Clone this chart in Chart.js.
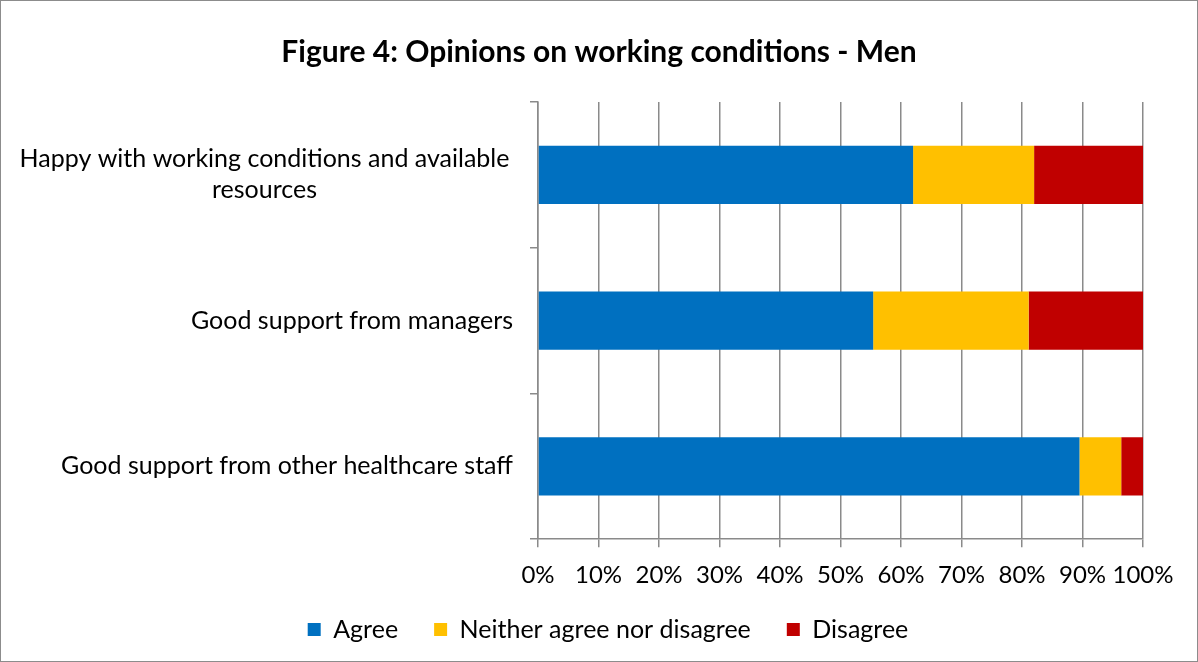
<!DOCTYPE html>
<html>
<head>
<meta charset="utf-8">
<script src="https://cdn.jsdelivr.net/npm/chart.js@4.4.1/dist/chart.umd.min.js"></script>
<style>
  html, body { margin: 0; padding: 0; background: #fff; }
  #frame { width: 1198px; height: 662px; box-sizing: border-box; border: 1px solid #8c8c8c; }
  canvas { display: block; }
</style>
</head>
<body>
<div id="frame"><canvas id="chart" width="1196" height="660"></canvas></div>
<script>
// Survey statements (multi-line where the label wraps)
const categories = [
  ['Happy with working conditions and available', 'resources'],
  ['Good support from managers'],
  ['Good support from other healthcare staff']
];

// Share of respondents, in percent
const agree    = [62.0, 55.4, 89.5];
const neither  = [20.0, 25.7, 6.9];
const disagree = [18.0, 18.9, 3.6];

const seriesNames = ['Agree', 'Neither agree nor disagree', 'Disagree'];
const seriesColors = ['#0070C0', '#FFC000', '#C00000'];

const FONT = 'Lato, "Open Sans", sans-serif';
const gridColor = '#8a8a8a';

Chart.defaults.font.family = FONT;
Chart.defaults.color = '#000';

// category labels: single lines right-aligned to the axis,
// wrapped labels centred in the space left of the axis
const categoryLabels = {
  id: 'categoryLabels',
  afterDraw(chart) {
    const ctx = chart.ctx;
    const yScale = chart.scales.y;
    const right = chart.chartArea.left - 25;
    const lineHeight = 31;
    ctx.save();
    ctx.font = '25px ' + FONT;
    ctx.fillStyle = '#000';
    ctx.textBaseline = 'middle';
    chart.data.labels.forEach((lines, i) => {
      const yc = yScale.getPixelForValue(i);
      let x;
      if (lines.length > 1) {
        ctx.textAlign = 'center';
        x = (15 + right) / 2;
      } else {
        ctx.textAlign = 'right';
        x = right;
      }
      lines.forEach((line, j) => {
        ctx.fillText(line, x, yc + (j - (lines.length - 1) / 2) * lineHeight);
      });
    });
    ctx.restore();
  }
};

// the legend keeps wide gaps between items but takes less room above it
const LEGEND_TRIM = 21;
const compactLegend = {
  id: 'compactLegend',
  afterInit(chart) {
    const legend = chart.legend;
    const fit = legend.fit;
    legend.fit = function () {
      fit.call(this);
      this.height -= LEGEND_TRIM;
    };
  },
  afterLayout(chart) {
    const legend = chart.legend;
    legend.top -= LEGEND_TRIM + 2;
    legend.left += 9;
    legend.right += 9;
  }
};

const datasets = [agree, neither, disagree].map((values, k) => ({
  label: seriesNames[k],
  data: values,
  backgroundColor: seriesColors[k],
  borderWidth: 0,
  barPercentage: 0.4,
  categoryPercentage: 1.0
}));

new Chart(document.getElementById('chart').getContext('2d'), {
  type: 'bar',
  data: { labels: categories, datasets: datasets },
  plugins: [categoryLabels, compactLegend],
  options: {
    responsive: false,
    animation: false,
    devicePixelRatio: 1,
    indexAxis: 'y',
    layout: { padding: { left: 0, right: 0, top: 0, bottom: 7 } },
    scales: {
      x: {
        stacked: true,
        min: 0,
        max: 100,
        ticks: {
          stepSize: 10,
          callback: v => v + '%',
          font: { size: 24 },
          color: '#000',
          padding: 14,
          maxRotation: 0
        },
        grid: { color: gridColor, lineWidth: 1.5, tickLength: 8 },
        border: { color: gridColor, width: 1.5 },
        afterFit: scale => { scale.paddingRight = 54; }
      },
      y: {
        stacked: true,
        ticks: { display: false },
        grid: { offset: true, drawOnChartArea: false, tickLength: 8, color: gridColor, lineWidth: 1.5 },
        border: { color: gridColor, width: 1.5 },
        afterFit: scale => { scale.width = 537; }
      }
    },
    plugins: {
      title: {
        display: true,
        text: 'Figure 4: Opinions on working conditions - Men',
        font: { size: 30, weight: 'bold' },
        color: '#000',
        padding: { top: 33, bottom: 32 }
      },
      legend: {
        position: 'bottom',
        labels: {
          boxWidth: 13,
          boxHeight: 13,
          font: { size: 25 },
          color: '#000',
          padding: 36
        }
      },
      tooltip: { enabled: false }
    }
  }
});
</script>
</body>
</html>
